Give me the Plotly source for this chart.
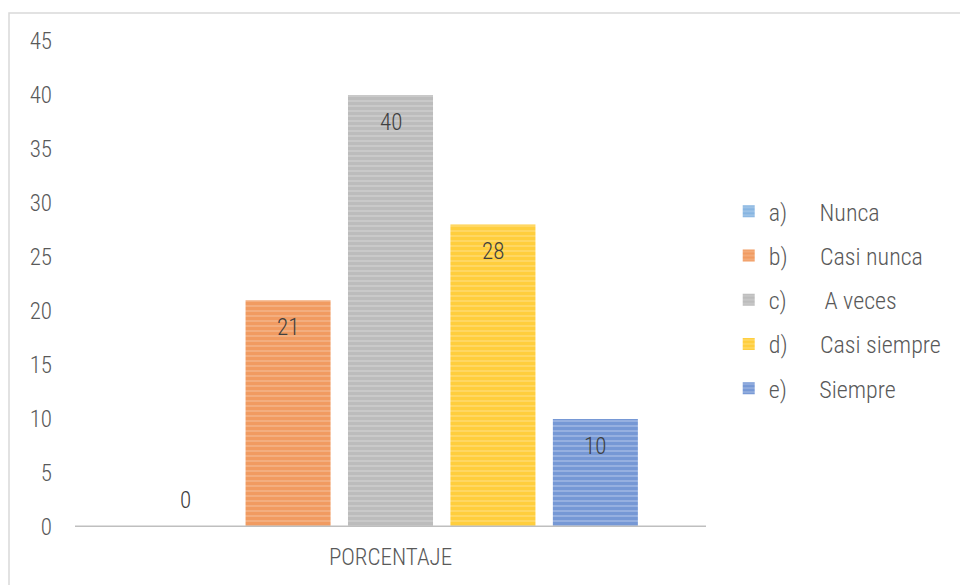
import plotly.graph_objects as go

# Survey answer distribution (percentage)
categories = ["a)", "b)", "c)", "d)", "e)"]
answers = ["Nunca", "Casi nunca", "A veces", "Casi siempre", "Siempre"]
percent = [0, 21, 40, 28, 10]
axis_label = "PORCENTAJE"
y_ticks = [0, 5, 10, 15, 20, 25, 30, 35, 40, 45]

main_colors = ["#5B9BD5", "#ED7D31", "#A5A5A5", "#FFC000", "#4472C4"]
light_colors = ["#B3CFEC", "#F5B990", "#D2D2D2", "#FFDD7A", "#A9BEE6"]

FONT = "Liberation Sans Narrow, Roboto Condensed, DejaVu Sans Condensed, Arial Narrow, sans-serif"
TEXT = "#595959"
NBSP = "\u00a0"

fig = go.Figure()
positions = list(range(len(categories)))
for i, (cat, ans, val) in enumerate(zip(categories, answers, percent)):
    gap = NBSP * (6 if ans != "A veces" else 7)
    fig.add_trace(go.Bar(
        x=[positions[i]], y=[val],
        name=f"{cat}{gap}{ans}",
        legendgroup=str(i),
        width=0.83,
        marker=dict(
            color=light_colors[i],
            line=dict(width=0),
            pattern=dict(shape="-", fgcolor=main_colors[i], bgcolor=light_colors[i],
                         size=5, solidity=0.75),
        ),
        hoverinfo="skip",
    ))
    fig.add_annotation(
        x=positions[i], y=val, text=str(val), showarrow=False,
        yshift=-27 if val > 0 else 27,
        font=dict(family=FONT, size=23, color="#404040", weight=300),
    )

mid = positions[len(positions) // 2]
fig.update_layout(
    width=960, height=585,
    margin=dict(l=75, r=254, t=41, b=58, autoexpand=False),
    paper_bgcolor="white", plot_bgcolor="white",
    barmode="overlay",
    showlegend=True,
    legend=dict(
        x=1.036, y=0.695, xanchor="left", yanchor="top",
        font=dict(family=FONT, size=24, color=TEXT, weight=300),
        tracegroupgap=10, traceorder="grouped",
        bgcolor="rgba(0,0,0,0)",
    ),
    xaxis=dict(
        range=[-1.08, 5.08], tickvals=[mid], ticktext=[axis_label],
        showgrid=False, zeroline=False, showline=False, ticks="",
        ticklabelstandoff=14,
        tickfont=dict(family=FONT, size=23, color=TEXT, weight=300),
    ),
    yaxis=dict(
        range=[0, 45], tickvals=y_ticks, showgrid=False, zeroline=False,
        showline=False, ticks="", ticklabelstandoff=22,
        tickfont=dict(family=FONT, size=23, color=TEXT, weight=300),
    ),
    shapes=[
        # category axis baseline
        dict(type="line", xref="paper", yref="y", x0=0, x1=1, y0=0, y1=0,
             line=dict(color="#BFBFBF", width=3), layer="above"),
        # chart area border
        dict(type="rect", xref="paper", yref="paper",
             x0=-0.1046, x1=1.45, y0=-0.2, y1=1.0576,
             line=dict(color="#D9D9D9", width=1.5), layer="below"),
    ],
)

fig.write_html("out.html")
